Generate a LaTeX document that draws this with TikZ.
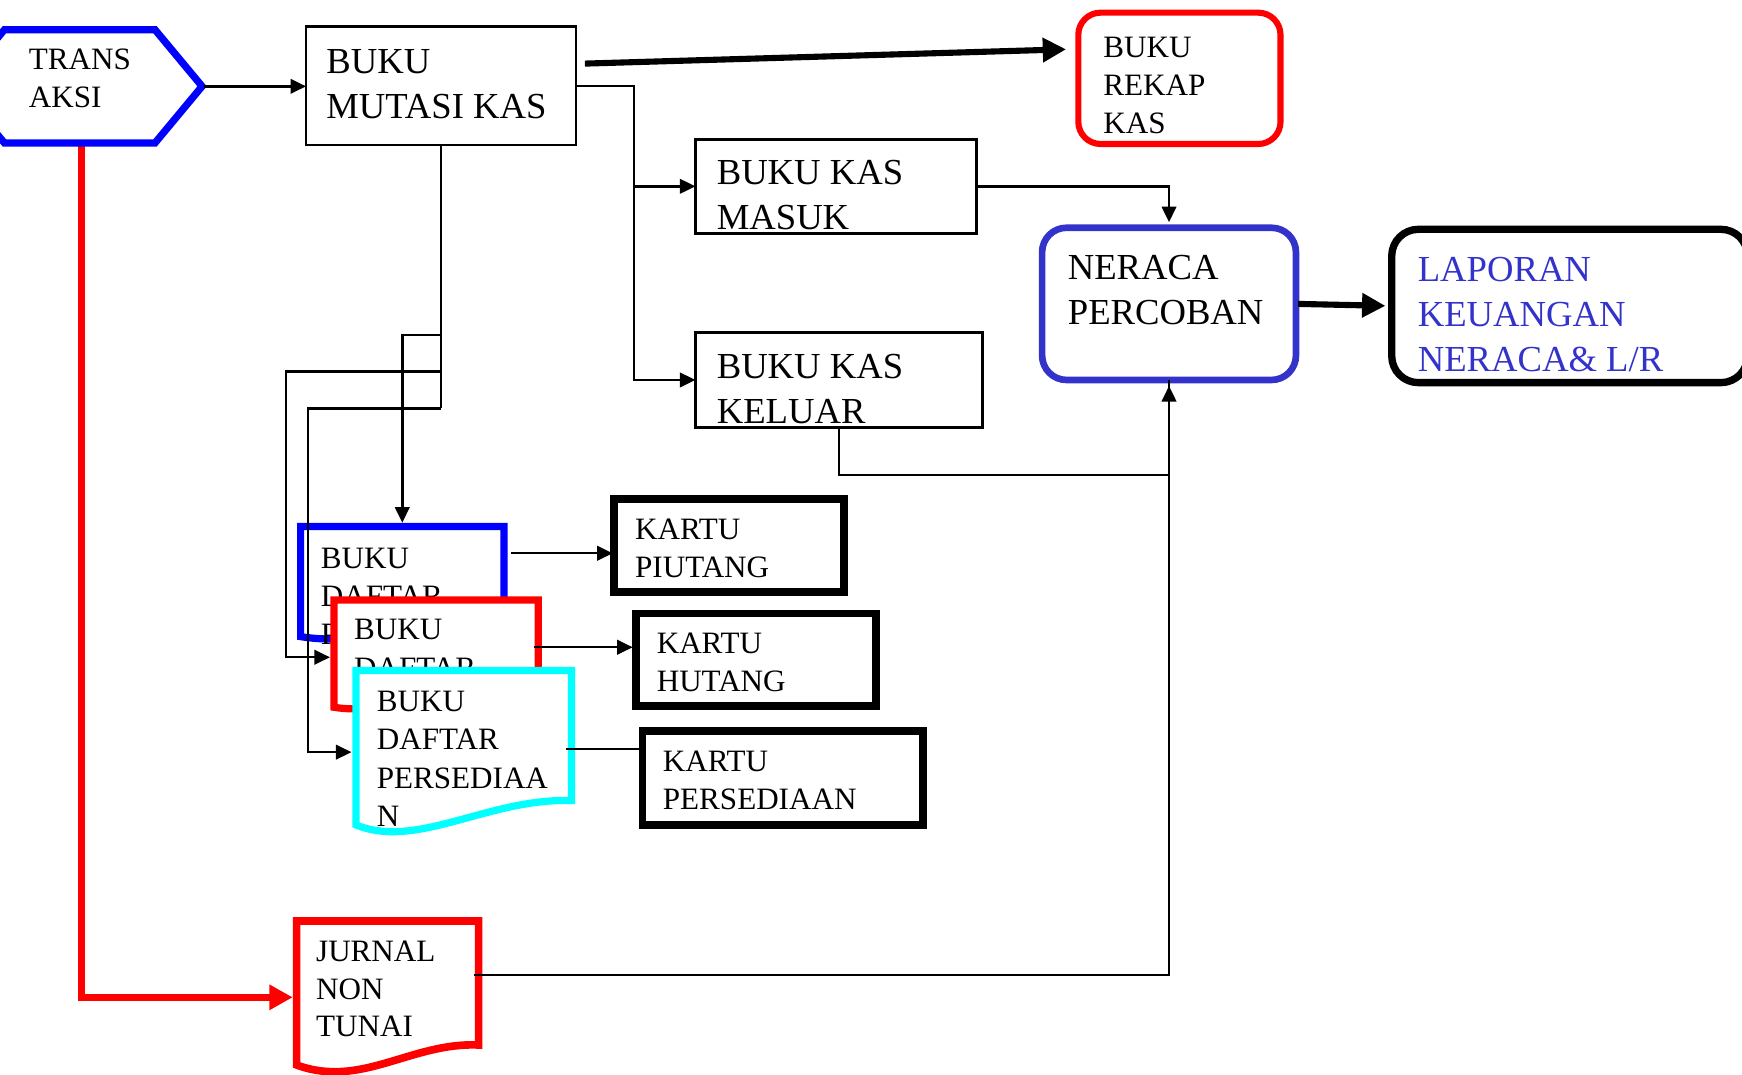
\documentclass[tikz,border=0pt]{standalone}
\usepackage{fontspec}
\setmainfont{Liberation Serif}
\usetikzlibrary{arrows.meta,calc}
\definecolor{pblue}{HTML}{0000FF}
\definecolor{nblue}{HTML}{3333CC}
\definecolor{pred}{HTML}{FF0000}
\definecolor{pcyan}{HTML}{00FFFF}
\begin{document}
\begin{tikzpicture}[x=1pt,y=-1pt,
  bigtxt/.style={anchor=base west, inner sep=0pt, align=left, font=\fontsize{33}{40.5}\selectfont},
  smalltxt/.style={anchor=base west, inner sep=0pt, align=left, font=\fontsize{28}{34}\selectfont},
  boxbase/.style={anchor=north west, inner sep=0pt, outer sep=0pt},
  thinbox/.style={boxbase, draw, line width=2.4pt},
  cardbox/.style={boxbase, draw, line width=7pt},
  conn/.style={line width=2.2pt, -{Triangle[length=14pt,width=13pt]}},
  plainline/.style={line width=2.2pt},
  bigarrow/.style={line width=5.5pt, -{Triangle[length=21pt,width=21pt]}},
  docline/.style={line width=6.5pt, fill=white},
]
\path[use as bounding box] (0,0) rectangle (1568,967);
\clip (0,0) rectangle (1568,967);
\fill[white] (0,0) rectangle (1568,967);

% TRANS AKSI
\coordinate (transE) at (184,77.7);
\coordinate (transS) at (73.4,128.7);
\draw[pred, line width=6pt, -{Triangle[length=21pt,width=21.6pt]}, shorten >=3.5pt]
  ($(transS)+(0,3)$) |- (267,897.7) coordinate (jurnalW);
\draw[pblue, line width=6.5pt, fill=white] (4,26.7) -- (139.5,26.7) -- (181.9,77.7) -- (139.5,128.7) -- (4,128.7) -- (-38.4,77.7) -- cycle;
\node[smalltxt, font=\fontsize{28}{33.6}\selectfont] (transT) at (25.8,96.6) {TRANS\\AKSI};

% BUKU MUTASI KAS
\node[thinbox, minimum width=243pt, minimum height=106.5pt] (mutasi) at (275.5,24) {};
\node[bigtxt] (mutasiT) at (293.6,106.3) {BUKU\\MUTASI KAS};

% BUKU REKAP KAS
\node[boxbase, draw=pred, line width=5.5pt, rounded corners=20pt, minimum width=182pt, minimum height=118.2pt] (rekap) at (970.6,11.4) {};
\node[smalltxt, font=\fontsize{28}{34.5}\selectfont] (rekapT) at (993,120.6) {BUKU\\REKAP\\KAS};

% BUKU KAS MASUK / KELUAR
\node[thinbox, minimum width=253pt, minimum height=84.6pt] (masuk) at (626,125.4) {};
\node[bigtxt] (masukT) at (645,207) {BUKU KAS\\MASUK};
\node[thinbox, minimum width=258.5pt, minimum height=85.2pt] (keluar) at (626,299.4) {};
\node[bigtxt] (keluarT) at (645,381.5) {BUKU KAS\\KELUAR};

% NERACA PERCOBAN
\node[boxbase, draw=nblue, line width=6pt, rounded corners=22pt, minimum width=228.5pt, minimum height=137pt] (neraca) at (938,205) {};
\node[bigtxt] (neracaT) at (961,291.9) {NERACA\\PERCOBAN};

% LAPORAN
\node[boxbase, draw=black, line width=6.6pt, rounded corners=24pt, minimum width=320.3pt, minimum height=138pt] (laporan) at (1252.7,206.4) {};
\node[bigtxt, text=nblue] (laporanT) at (1276,334.5) {LAPORAN\\KEUANGAN\\NERACA\& L/R};

% KARTU boxes
\node[cardbox, minimum width=206.4pt, minimum height=84pt] (kp) at (553,449) {};
\node[smalltxt, font=\fontsize{28}{33.6}\selectfont] (kpT) at (571.5,519.6) {KARTU\\PIUTANG};
\node[cardbox, minimum width=216pt, minimum height=83.4pt] (kh) at (572.7,552.3) {};
\node[smalltxt, font=\fontsize{28}{33.9}\selectfont] (khT) at (591,622.5) {KARTU\\HUTANG};
\node[cardbox, minimum width=252.2pt, minimum height=84.1pt] (kps) at (578.3,658.2) {};
\node[smalltxt, font=\fontsize{28}{33.8}\selectfont] (kpsT) at (596.5,728.4) {KARTU\\PERSEDIAAN};

% BUKU DAFTAR PIUTANG (blue)
\node[boxbase, minimum width=183pt, minimum height=99pt] (bp) at (270.6,474) {};
\draw[pblue, docline] (270.6,474) -- (453.6,474) -- (453.6,560) .. controls (400,555) and (330,583) .. (270.6,573) -- cycle;
\node[smalltxt, font=\fontsize{28}{34.5}\selectfont] (bpT) at (288.6,580.5) {BUKU\\DAFTAR\\P};

% BUKU DAFTAR HUTANG (red)
\node[boxbase, minimum width=184pt, minimum height=97pt] (bh) at (300.6,540) {};
\draw[pred, docline] (300.6,540) -- (484.5,540) -- (484.5,620) .. controls (420,615) and (350,645) .. (300.6,636.6) -- cycle;
\node[smalltxt, font=\fontsize{28}{34.5}\selectfont] (bhT) at (318.6,610.5) {BUKU\\DAFTAR};

% BUKU DAFTAR PERSEDIAAN (cyan)
\node[boxbase, minimum width=194pt, minimum height=117pt] (bd) at (320.4,603.6) {};
\draw[pcyan, docline] (320.4,603.6) -- (514.5,603.6) -- (514.5,720.6) .. controls (440,718) and (375,765) .. (320.4,742.5) -- cycle;
\node[smalltxt, font=\fontsize{28}{34.5}\selectfont] (bdT) at (339,744) {BUKU\\DAFTAR\\PERSEDIAA\\N};

% JURNAL NON TUNAI
\node[boxbase, minimum width=163.8pt, minimum height=111pt] (jurnal) at (267,829) {};
\draw[pred, docline, line width=6.9pt] (267,829) -- (430.8,829) -- (430.8,940.6) .. controls (370,938) and (325,980) .. (267,958.6) -- cycle;
\node[smalltxt, font=\fontsize{28}{33.7}\selectfont] (jurnalT) at (284.4,933) {JURNAL\\NON\\TUNAI};
\coordinate (jurnalE) at ($(jurnal.north east)+(-4.2,48.6)$);

% connectors
\draw[conn] (transE) -- (transE -| mutasi.west);
\draw[bigarrow] ($(mutasi.east)+(8,-20)$) -- ($(rekap.west)+(-11,-26.1)$);
\draw[conn] (mutasi.east) -- ++(52,0) |- (masuk.west);
\draw[conn] (mutasi.east) -- ++(52,0) |- (keluar.west);
\draw[conn, shorten >=5pt] (masuk.east) -| (neraca.north);
\draw[plainline] (keluar.south) -- ++(0,43) -| (neraca.south);
\draw[conn, shorten >=5.4pt] (jurnalE) -| (neraca.south);
\draw[bigarrow, shorten <=2pt, shorten >=5.7pt] (neraca.east) -- (laporan.west);

\draw[plainline] (mutasi.south) -- ++(0,237);
\draw[conn, shorten >=3.5pt] ($(mutasi.south)+(0,171)$) -| (bp.north);
\draw[conn, shorten >=3.6pt] ($(mutasi.south)+(0,204)$) -| ($(bh.north west)+(-43,51.6)$) -- ($(bh.north west)+(0,51.6)$);
\draw[conn, shorten >=4pt] ($(mutasi.south)+(0,237)$) -| ($(bd.north west)+(-43,73.4)$) -- ($(bd.north west)+(0,73.4)$);

\coordinate (pa) at ($(bp.north east)+(6.4,24)$);
\draw[conn, shorten >=1.5pt] (pa) -- (pa -| kp.west);
\coordinate (ha) at ($(bh.north east)+(-3.9,42.6)$);
\draw[conn, shorten >=3.2pt] (ha) -- (ha -| kh.west);
\coordinate (pl) at ($(bd.north east)+(-4.5,70.4)$);
\draw[plainline] (pl) -- (pl -| kps.west);
\end{tikzpicture}
\end{document}
